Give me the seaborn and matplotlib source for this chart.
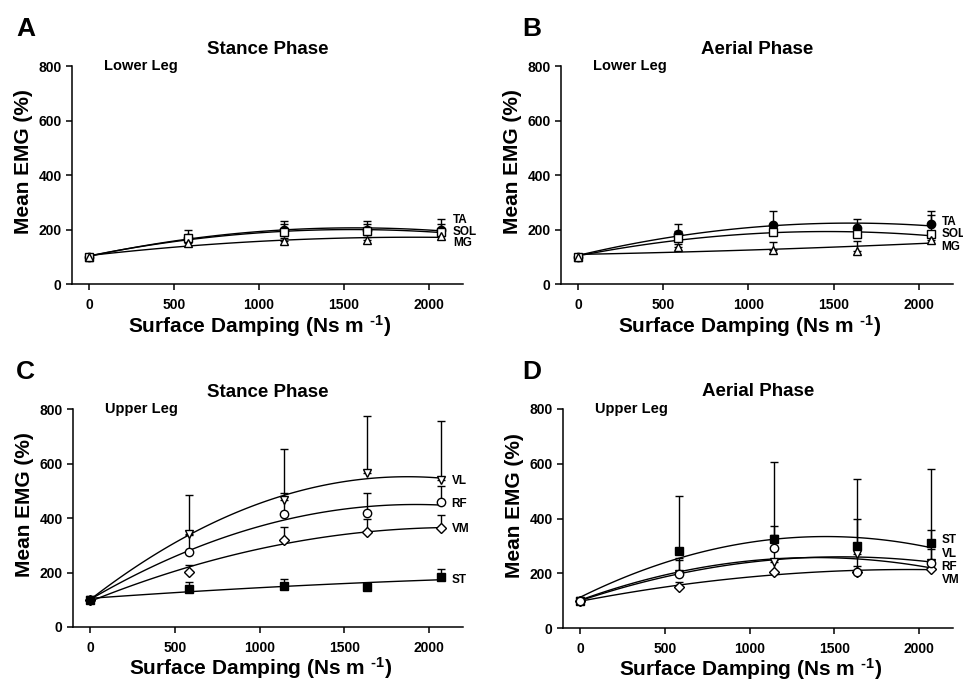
import numpy as np
import pandas as pd
import matplotlib
matplotlib.use("Agg")
import matplotlib.pyplot as plt
import seaborn as sns

# Surface damping levels (Ns/m)
damping = [0, 585, 1145, 1635, 2070]

# Panel A: lower leg, stance phase (mean EMG %, upper SD)
a_ta = [100, 168, 200, 200, 198]
a_ta_sd = [0, 30, 32, 32, 39]
a_sol = [100, 170, 190, 195, 192]
a_sol_sd = [0, 10, 30, 25, 28]
a_mg = [100, 150, 157, 163, 176]
a_mg_sd = [0, 8, 10, 8, 8]

# Panel B: lower leg, aerial phase
b_ta = [100, 185, 218, 206, 222]
b_ta_sd = [0, 36, 49, 31, 46]
b_sol = [100, 167, 189, 182, 182]
b_sol_sd = [0, 28, 15, 15, 70]
b_mg = [100, 137, 123, 121, 161]
b_mg_sd = [0, 10, 32, 37, 10]

# Panel C: upper leg, stance phase
c_vl = [100, 343, 466, 564, 539]
c_vl_sd = [0, 141, 187, 212, 217]
c_rf = [100, 276, 413, 417, 457]
c_rf_sd = [0, 60, 80, 73, 60]
c_vm = [100, 202, 321, 348, 362]
c_vm_sd = [0, 25, 47, 50, 49]
c_st = [100, 140, 151, 147, 182]
c_st_sd = [0, 25, 24, 15, 30]

# Panel D: upper leg, aerial phase
d_st = [100, 281, 324, 299, 311]
d_st_sd = [0, 201, 282, 247, 269]
d_vl = [100, 199, 240, 272, 236]
d_vl_sd = [0, 55, 100, 25, 51]
d_rf = [100, 197, 291, 205, 238]
d_rf_sd = [0, 50, 83, 194, 120]
d_vm = [100, 148, 205, 205, 214]
d_vm_sd = [0, 20, 45, 20, 20]

x_ticks = [0, 500, 1000, 1500, 2000]
y_ticks = [0, 200, 400, 600, 800]

sns.set_style("ticks")
plt.rcParams["font.family"] = ["Liberation Sans", "DejaVu Sans"]
plt.rcParams["font.weight"] = "bold"
plt.rcParams["text.color"] = "black"
plt.rcParams["axes.labelcolor"] = "black"
plt.rcParams["xtick.color"] = "black"
plt.rcParams["ytick.color"] = "black"
plt.rcParams["mathtext.fontset"] = "custom"
plt.rcParams["mathtext.rm"] = "Liberation Sans:bold"
plt.rcParams["mathtext.bf"] = "Liberation Sans:bold"
plt.rcParams["mathtext.default"] = "bf"

fig = plt.figure(figsize=(9.63, 6.81), dpi=100)
W, H = 963, 681


def add_axes(left, top, right, bottom):
    return fig.add_axes([left / W, 1 - bottom / H, (right - left) / W, (bottom - top) / H])


ax_a = add_axes(72, 66, 463, 284)
ax_b = add_axes(561, 66, 953, 284)
ax_c = add_axes(73, 409, 463, 627)
ax_d = add_axes(563, 409, 953, 628)

marker_styles = {
    "filled_circle": dict(marker="o", mfc="black"),
    "open_square": dict(marker="s", mfc="white"),
    "open_triangle": dict(marker="^", mfc="white"),
    "open_tri_down": dict(marker="v", mfc="white"),
    "open_circle": dict(marker="o", mfc="white"),
    "open_diamond": dict(marker="D", mfc="white", ms=5.2),
    "filled_square": dict(marker="s", mfc="black"),
}


def draw_series(ax, y, sd, style, z):
    df = pd.DataFrame({"damping": damping, "emg": y})
    sns.regplot(data=df, x="damping", y="emg", order=2, ci=None, scatter=False,
                truncate=True, ax=ax, line_kws=dict(color="black", lw=1.0, zorder=2))
    kw = dict(ms=6, mec="black", mew=1.0)
    kw.update(marker_styles[style])
    ax.errorbar(damping, y, yerr=[np.zeros(len(sd)), sd], fmt="none", ecolor="black",
                elinewidth=1.0, capsize=3, capthick=1.0, zorder=3)
    ax.plot(damping, y, ls="none", zorder=4 + 0.1 * z, **kw)


def style_axes(ax, title, region, letter, letter_x, letter_y, xlabel_y):
    ax.set_xlim(-100, 2200)
    ax.set_ylim(0, 800)
    ax.set_xticks(x_ticks)
    ax.set_yticks(y_ticks)
    sns.despine(ax=ax)
    for s in ("left", "bottom"):
        ax.spines[s].set_linewidth(1.1)
        ax.spines[s].set_color("black")
    ax.tick_params(axis="both", direction="out", length=4, width=1.1, colors="black",
                   labelsize=10)
    ax.tick_params(axis="x", pad=6)
    for lab in ax.get_xticklabels() + ax.get_yticklabels():
        lab.set_fontweight("bold")
    ax.set_xlabel(r"Surface Damping (Ns m $^{\text{-1}}$)", fontsize=15, fontweight="bold")
    ax.set_ylabel("Mean EMG (%)", fontsize=15, fontweight="bold")
    ax.xaxis.set_label_coords(0.48, xlabel_y)
    ax.yaxis.set_label_coords(-0.10, 0.56)
    ax.set_title(title, fontsize=13.5, fontweight="bold", pad=9)
    ax.text(0.082, 1.0, region, transform=ax.transAxes, fontsize=10.5,
            fontweight="bold", va="center", ha="left")
    fig.text(letter_x / W, 1 - letter_y / H, letter, fontsize=19, fontweight="bold",
             va="baseline", ha="left")


def label_series(ax, labels, ys, x=2135):
    for lab, y in zip(labels, ys):
        ax.text(x, y, lab, fontsize=8.5, fontweight="bold", va="center", ha="left",
                clip_on=False)


# A (later series drawn on top)
draw_series(ax_a, a_ta, a_ta_sd, "filled_circle", 0)
draw_series(ax_a, a_sol, a_sol_sd, "open_square", 1)
draw_series(ax_a, a_mg, a_mg_sd, "open_triangle", 2)
style_axes(ax_a, "Stance Phase", "Lower Leg", "A", 16, 36, -0.135)
label_series(ax_a, ["TA", "SOL", "MG"], [234, 191, 149], x=2140)

# B
draw_series(ax_b, b_ta, b_ta_sd, "filled_circle", 0)
draw_series(ax_b, b_sol, b_sol_sd, "open_square", 1)
draw_series(ax_b, b_mg, b_mg_sd, "open_triangle", 2)
style_axes(ax_b, "Aerial Phase", "Lower Leg", "B", 522, 36, -0.135)
label_series(ax_b, ["TA", "SOL", "MG"], [228, 185, 137], x=2133)

# C
draw_series(ax_c, c_vm, c_vm_sd, "open_diamond", 0)
draw_series(ax_c, c_rf, c_rf_sd, "open_circle", 1)
draw_series(ax_c, c_vl, c_vl_sd, "open_tri_down", 2)
draw_series(ax_c, c_st, c_st_sd, "filled_square", 3)
style_axes(ax_c, "Stance Phase", "Upper Leg", "C", 16, 379, -0.128)
label_series(ax_c, ["VL", "RF", "VM", "ST"], [536, 450, 358, 172], x=2132)

# D
draw_series(ax_d, d_st, d_st_sd, "filled_square", 0)
draw_series(ax_d, d_vm, d_vm_sd, "open_diamond", 1)
draw_series(ax_d, d_vl, d_vl_sd, "open_tri_down", 2)
draw_series(ax_d, d_rf, d_rf_sd, "open_circle", 3)
style_axes(ax_d, "Aerial Phase", "Upper Leg", "D", 522, 379, -0.128)
label_series(ax_d, ["ST", "VL", "RF", "VM"], [321, 270, 223, 175], x=2133)

fig.savefig("out.png", dpi=100, facecolor="white")
